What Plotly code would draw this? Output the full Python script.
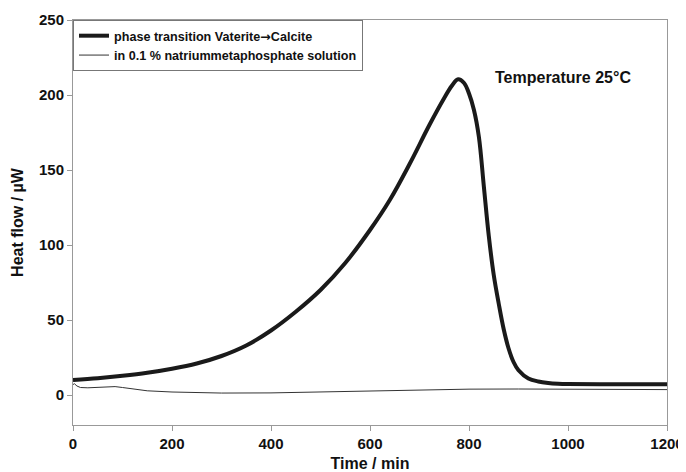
import plotly.graph_objects as go

# Thick series: phase transition Vaterite -> Calcite
t_main = [0, 50, 100, 150, 200, 250, 300, 350, 400, 450, 500, 550, 600, 640, 680, 720,
          750, 765, 778, 790, 800, 810, 820, 830, 840, 850, 860, 870, 880, 890, 900,
          920, 940, 960, 980, 1000, 1100, 1200]
q_main = [10, 11.2, 12.8, 14.8, 17.5, 21, 26, 33, 43, 55.5, 70, 88, 110, 130, 154, 180,
          198, 206, 210.5, 208, 201, 190, 172, 139, 106, 80, 61, 44, 31, 22, 16.5,
          11, 9, 8, 7.5, 7.3, 7.2, 7.2]

# Thin series: in 0.1 % natriummetaphosphate solution
t_sol = [0, 3, 8, 15, 30, 50, 70, 85, 100, 125, 150, 200, 250, 300, 400, 500, 600,
         700, 800, 900, 1000, 1100, 1200]
q_sol = [7, 7.5, 6, 5, 4.8, 5, 5.3, 5.6, 5, 3.8, 2.8, 2, 1.5, 1.3, 1.4, 2, 2.8,
         3.5, 3.9, 4, 4, 3.8, 3.6]

x_ticks = [0, 200, 400, 600, 800, 1000, 1200]
y_ticks = [0, 50, 100, 150, 200, 250]

FONT = "Liberation Sans, Arial, sans-serif"

fig = go.Figure()
fig.add_trace(go.Scatter(
    x=t_main, y=q_main, mode="lines",
    line=dict(color="#1a1a1a", width=4, shape="spline", smoothing=1.0),
    name="phase transition Vaterite<span style='font-family:DejaVu Sans'>\u2192</span>Calcite"))
fig.add_trace(go.Scatter(
    x=t_sol, y=q_sol, mode="lines",
    line=dict(color="#333333", width=1),
    name="in 0.1 % natriummetaphosphate solution"))

fig.add_annotation(x=990, y=212, xref="x", yref="y", text="Temperature 25°C",
                   showarrow=False, font=dict(family=FONT, size=16, color="#111", weight="bold"))

axis_common = dict(showline=True, linecolor="#999999", linewidth=1, mirror=True,
                   ticks="outside", ticklen=5, tickcolor="#999999", showgrid=False,
                   zeroline=False, automargin=False,
                   tickfont=dict(family=FONT, size=15, color="#111", weight="bold"))

fig.update_xaxes(range=[0, 1200], tickvals=x_ticks,
                 title=dict(text="Time / min",
                            font=dict(family=FONT, size=16, color="#111", weight="bold"),
                            standoff=6),
                 **axis_common)
fig.update_yaxes(range=[-20, 250], tickvals=y_ticks,
                 title=dict(text="Heat flow / \u00b5W",
                            font=dict(family=FONT, size=16, color="#111", weight="bold"),
                            standoff=11),
                 **axis_common)

# page body has an 8px margin: figure is 8px smaller, left/top margins reduced by 8
fig.update_layout(
    width=678, height=464,
    margin=dict(l=65, r=19, t=12, b=47),
    paper_bgcolor="white", plot_bgcolor="white",
    showlegend=True,
    legend=dict(x=0, y=1, xanchor="left", yanchor="top",
                bordercolor="#777777", borderwidth=1, bgcolor="white",
                font=dict(family=FONT, size=12.6, color="#111", weight="bold"),
                tracegroupgap=0, itemwidth=30),
)

fig.write_html("out.html")
